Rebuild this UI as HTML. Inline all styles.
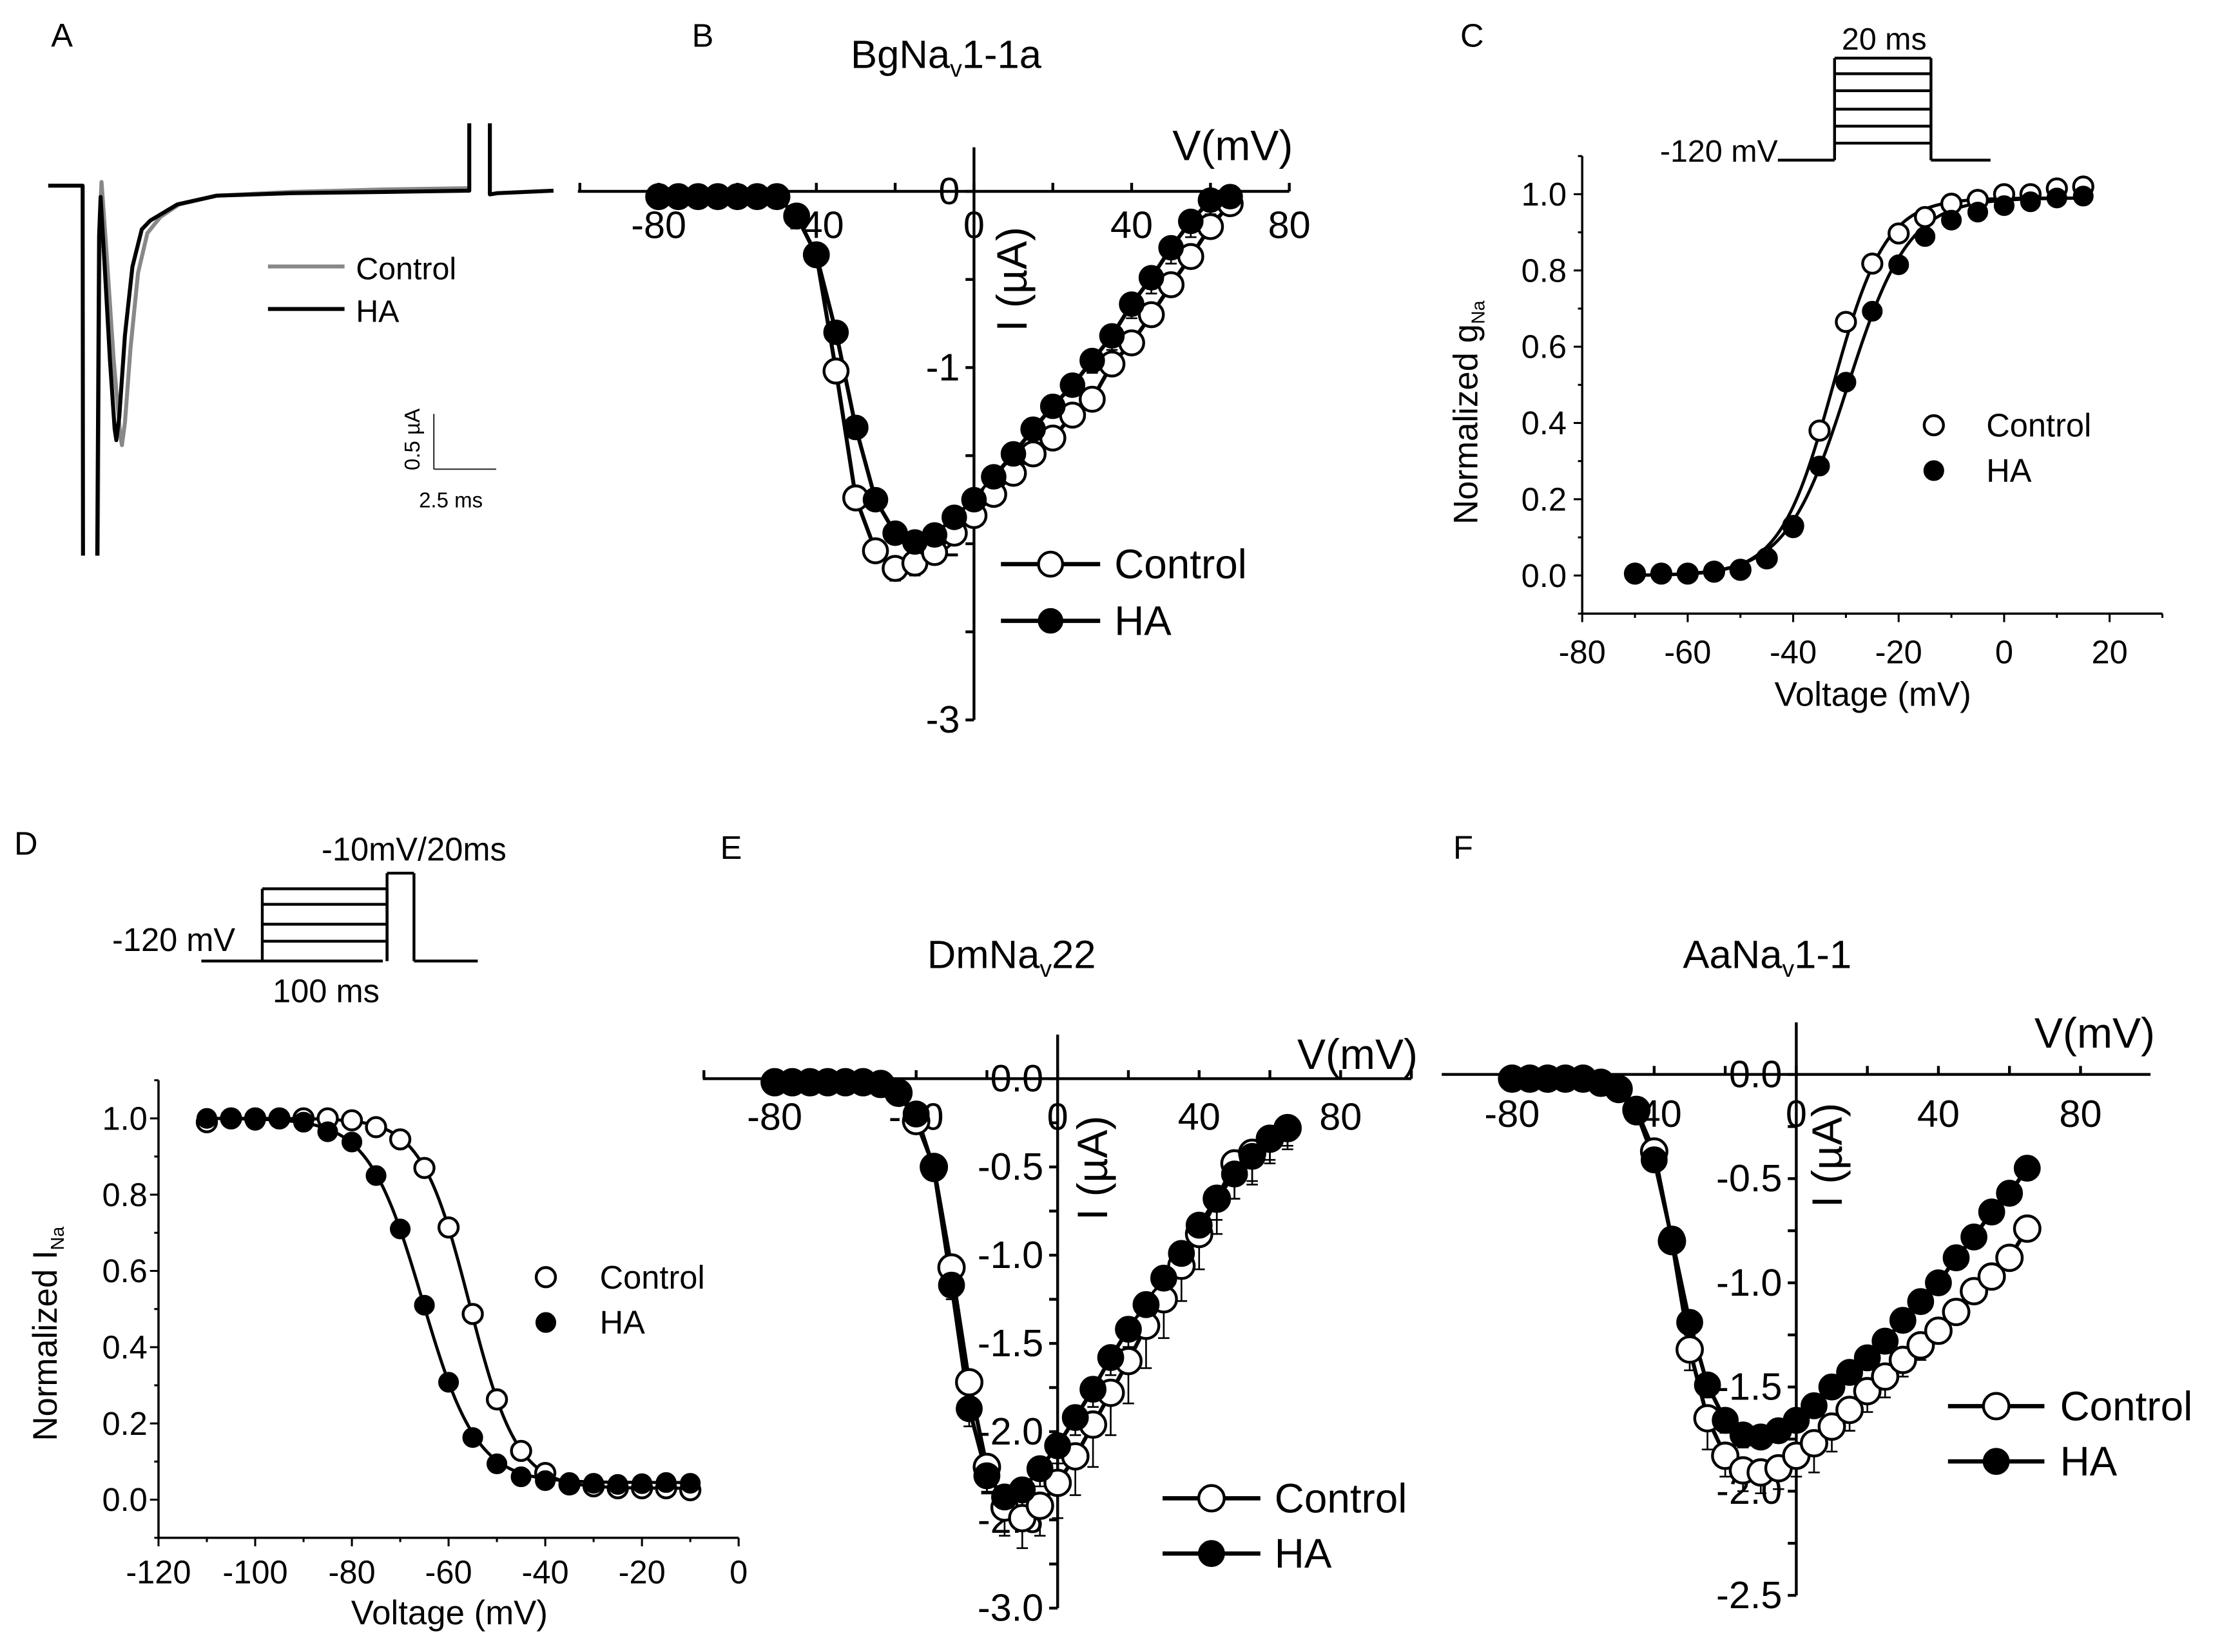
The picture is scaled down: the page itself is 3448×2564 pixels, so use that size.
<!DOCTYPE html>
<html><head><meta charset="utf-8"><style>
html,body{margin:0;padding:0;background:#fff;}
svg{display:block;font-family:"Liberation Sans",Arial,sans-serif;}
</style></head><body>
<svg id="fig" xmlns="http://www.w3.org/2000/svg" width="3448" height="2564" viewBox="0 0 1567.27 1165.45">
<rect x="0" y="0" width="1567.27" height="1165.45" fill="#fff"/>
</svg>
<script>
// ---------- DATA ----------
// Panel A traces (time ms, current uA)
const aCtrlT=[2.65,2.75,2.85,3.1,3.5,3.85,3.94,4.1,4.4,4.8,5.3,6,7,9,13,18,22.5];
const aCtrlI=[-3.0,-0.3,0.03,-0.5,-1.4,-2.0,-2.08,-1.9,-1.3,-0.7,-0.38,-0.25,-0.15,-0.08,-0.05,-0.03,-0.02];
const aHa1T=[0,1.84,1.86];
const aHa1I=[0.0,0.0,-3.0];
const aHaT=[2.62,2.72,2.8,3.0,3.3,3.55,3.64,3.8,4.1,4.5,5.0,5.45,6.9,9,13,18,22.5,22.5];
const aHaI=[-3.0,-0.4,-0.09,-0.6,-1.4,-1.95,-2.04,-1.85,-1.2,-0.65,-0.35,-0.28,-0.15,-0.08,-0.06,-0.05,-0.04,0.5];
const aHa2T=[23.6,23.6,24,27];
const aHa2I=[0.5,-0.07,-0.06,-0.04];

// Panel B
const bV=[-80,-75,-70,-65,-60,-55,-50,-45,-40,-35,-30,-25,-20,-15,-10,-5,0,5,10,15,20,25,30,35,40,45,50,55,60,65];
const bCtrl=[-0.03,-0.03,-0.03,-0.03,-0.03,-0.03,-0.03,-0.14,-0.36,-1.02,-1.74,-2.04,-2.14,-2.11,-2.05,-1.94,-1.84,-1.72,-1.6,-1.49,-1.4,-1.27,-1.18,-0.98,-0.86,-0.7,-0.53,-0.37,-0.2,-0.07];
const bCtrlErr=[0,0,0,0,0,0,0,0.02,0.03,0.05,0.06,0.06,0.07,0.07,0.06,0.05,0.05,0.05,0.05,0.05,0.05,0.05,0.05,0.05,0.06,0.06,0.06,0.06,0.06,0.06];
const bHa=[-0.03,-0.03,-0.03,-0.03,-0.03,-0.03,-0.03,-0.14,-0.36,-0.8,-1.34,-1.75,-1.94,-1.99,-1.95,-1.85,-1.75,-1.62,-1.49,-1.35,-1.22,-1.1,-0.96,-0.82,-0.64,-0.49,-0.32,-0.17,-0.05,-0.03];
const bHaErr=[0,0,0,0,0,0,0,0.02,0.03,0.04,0.05,0.05,0.05,0.05,0.05,0.05,0.05,0.05,0.05,0.05,0.06,0.06,0.07,0.08,0.08,0.09,0.09,0.09,0.08,0.07];

// Panel C
const cV=[-70,-65,-60,-55,-50,-45,-40,-35,-30,-25,-20,-15,-10,-5,0,5,10,15];
const cCtrl=[0.005,0.005,0.005,0.01,0.015,0.045,0.13,0.38,0.665,0.818,0.897,0.94,0.975,0.985,1.0,1.0,1.015,1.02];
const cHa=[0.005,0.005,0.005,0.01,0.015,0.045,0.125,0.287,0.507,0.693,0.815,0.889,0.932,0.953,0.97,0.98,0.99,0.995];
const cFitVh=[-32.5,-29.7];
const cFitK=[5.0,5.8];

// Panel D
const dV=[-110,-105,-100,-95,-90,-85,-80,-75,-70,-65,-60,-55,-50,-45,-40,-35,-30,-25,-20,-15,-10];
const dCtrl=[0.99,1.0,1.0,1.0,1.0,1.0,0.995,0.977,0.945,0.87,0.714,0.487,0.263,0.128,0.07,0.04,0.035,0.03,0.03,0.03,0.025];
const dHa=[1.0,1.0,0.995,1.0,0.99,0.965,0.938,0.85,0.71,0.51,0.308,0.163,0.094,0.06,0.05,0.045,0.043,0.04,0.042,0.045,0.043];
const dFitVh=[-55.7,-65.4];
const dFitK=[4.95,5.6];
const dFitBottom=[0.03,0.045];

// Panel E
const eV=[-80,-75,-70,-65,-60,-55,-50,-45,-40,-35,-30,-25,-20,-15,-10,-5,0,5,10,15,20,25,30,35,40,45,50,55,60,65];
const eCtrl=[-0.02,-0.02,-0.02,-0.02,-0.02,-0.02,-0.03,-0.08,-0.24,-0.5,-1.07,-1.72,-2.2,-2.43,-2.49,-2.42,-2.29,-2.14,-1.96,-1.78,-1.6,-1.4,-1.25,-1.06,-0.88,-0.68,-0.48,-0.42,-0.34,-0.28];
const eCtrlErr=[0,0,0,0,0,0,0,0.02,0.04,0.06,0.08,0.1,0.14,0.16,0.17,0.17,0.2,0.22,0.24,0.24,0.24,0.24,0.22,0.2,0.2,0.2,0.2,0.18,0.14,0.12];
const eHa=[-0.02,-0.02,-0.02,-0.02,-0.02,-0.02,-0.03,-0.08,-0.2,-0.51,-1.17,-1.87,-2.25,-2.37,-2.33,-2.21,-2.08,-1.92,-1.76,-1.58,-1.42,-1.28,-1.13,-0.99,-0.83,-0.68,-0.54,-0.44,-0.34,-0.28];
const eHaErr=[0,0,0,0,0,0,0,0.02,0.04,0.06,0.08,0.1,0.1,0.1,0.1,0.1,0.1,0.1,0.1,0.1,0.1,0.1,0.1,0.1,0.1,0.12,0.14,0.14,0.12,0.1];

// Panel F
const fV=[-80,-75,-70,-65,-60,-55,-50,-45,-40,-35,-30,-25,-20,-15,-10,-5,0,5,10,15,20,25,30,35,40,45,50,55,60,65];
const fCtrl=[-0.02,-0.02,-0.02,-0.02,-0.02,-0.04,-0.07,-0.17,-0.37,-0.8,-1.32,-1.65,-1.83,-1.9,-1.91,-1.89,-1.83,-1.77,-1.69,-1.61,-1.52,-1.45,-1.37,-1.3,-1.23,-1.14,-1.04,-0.97,-0.88,-0.74];
const fCtrlErr=[0,0,0,0,0,0,0,0.02,0.03,0.05,0.1,0.15,0.1,0.1,0.1,0.1,0.1,0.14,0.12,0.1,0.1,0.1,0.08,0.07,0.06,0.06,0.05,0.05,0.05,0.04];
const fHa=[-0.02,-0.02,-0.02,-0.02,-0.02,-0.04,-0.07,-0.18,-0.41,-0.79,-1.19,-1.49,-1.66,-1.73,-1.74,-1.71,-1.66,-1.59,-1.5,-1.43,-1.36,-1.28,-1.18,-1.09,-1.0,-0.88,-0.78,-0.66,-0.57,-0.45];
const fHaErr=[0,0,0,0,0,0,0,0.02,0.03,0.05,0.06,0.06,0.06,0.06,0.05,0.05,0.05,0.04,0.04,0.04,0.04,0.04,0.04,0.04,0.03,0.03,0.03,0.03,0.03,0.03];

// ---------- HELPERS ----------
const NS='http://www.w3.org/2000/svg';
const svg=document.getElementById('fig');
function mk(tag,attrs,parent){const e=document.createElementNS(NS,tag);for(const k in attrs)e.setAttribute(k,attrs[k]);(parent||svg).appendChild(e);return e;}
function txt(x,y,s,size,anchor,parent,name){
  const t=mk('text',{x:x,y:y,'font-size':size,'text-anchor':anchor||'start',fill:'#000'},parent);
  t.textContent=s;
  
  
  return t;
}
function line(x1,y1,x2,y2,w,parent,name,color){
  const l=mk('line',{x1:x1,y1:y1,x2:x2,y2:y2,stroke:color||'#000','stroke-width':w},parent);
  
  
  return l;
}
function group(name){
  const g=mk('g',{});
  
  
  return g;
}
function marker(x,y,r,filled,parent,name){
  const c=mk('circle',{cx:x,cy:y,r:r,fill:filled?'#000':'#fff',stroke:'#000','stroke-width':filled?1:2},parent);
  
  
  return c;
}
function poly(pts,w,parent,name,color){
  const p=mk('polyline',{points:pts.map(p=>p[0].toFixed(2)+','+p[1].toFixed(2)).join(' '),fill:'none',stroke:color||'#000','stroke-width':w,'stroke-linejoin':'round'},parent);
  
  
  return p;
}
function fmt1(v){return (v<0?'-':'')+Math.abs(v).toFixed(1);}

// ---------- PANEL LETTERS ----------
[['A',36,33],['B',488,33],['C',1030,33],['D',10,603],['E',508,606],['F',1025,606]].forEach(l=>{
  txt(l[1],l[2],l[0],23,'start',null,'panel-label-'+l[0].toLowerCase());
});

// ---------- PANEL A ----------
(function(){
  const g=group('panel-a-current-traces');
  const X=t=>34+t*13.2, Y=i=>131-i*88;
  const clipY=v=>Math.min(v,392);
  poly(aCtrlT.map((t,k)=>[X(t),clipY(Y(aCtrlI[k]))]),2.8,g,'control-trace','#888');
  poly(aHa1T.map((t,k)=>[X(t),clipY(Y(aHa1I[k]))]),2.8,g,'ha-trace-onset');
  poly(aHaT.map((t,k)=>[X(t),clipY(Y(aHaI[k]))]),2.8,g,'ha-trace');
  poly(aHa2T.map((t,k)=>[X(t),clipY(Y(aHa2I[k]))]),2.8,g,'ha-trace-artifact');
  const lg=group('panel-a-legend');
  line(189,188,243,188,2.8,lg,'legend-control-line','#888');
  txt(251,197,'Control',22,'start',lg,'legend-control-label');
  line(189,218,243,218,2.8,lg,'legend-ha-line');
  txt(251,227,'HA',22,'start',lg,'legend-ha-label');
  const sb=group('scale-bar');
  line(306,292,306,331,1,sb,'scale-bar-vertical','#333');
  line(306,331,350,331,1,sb,'scale-bar-horizontal','#333');
  const t1=txt(0,0,'0.5 \u00b5A',15,'middle',sb,'scale-bar-current-label');
  t1.setAttribute('transform','translate(296,310) rotate(-90)');
  txt(318,358,'2.5 ms',15,'middle',sb,'scale-bar-time-label');
})();

// ---------- IV PANELS ----------
function ivPanel(P){
  const g=group(P.name);
  const X=v=>P.x0+v*P.sx, Y=i=>P.y0-i*P.sy;
  line(X(P.vmin),P.y0,X(P.vmax),P.y0,2,g,'x-axis');
  line(P.x0,Y(P.imax),P.x0,Y(P.imin),2,g,'y-axis');
  for(let v=-100;v<=P.vmax+0.1;v+=20){ if(v<P.vmin-0.1) continue; line(X(v),P.y0,X(v),P.y0-6,2,g,'x-tick'); }
  for(let i=0;i>=P.imin-1e-6;i-=P.yminor){ line(P.x0,Y(i),P.x0-6,Y(i),2,g,'y-tick'); }
  P.xlabels.forEach(v=>txt(X(v),P.y0+P.xlabOff,String(v),P.fs,'middle',g,'x-tick-label'));
  P.ylabels.forEach(i=>txt(P.x0-10,Y(i)+9,P.yfmt(i),P.fs,'end',g,'y-tick-label'));
  txt(P.vlab[0],P.vlab[1],'V(mV)',30,'end',g,'x-axis-title');
  const yt=txt(0,0,'I (\u00b5A)',30,'middle',g,'y-axis-title');
  yt.setAttribute('transform','translate('+P.ilab[0]+','+P.ilab[1]+') rotate(-90)');
  const tt=mk('text',{x:P.title[0],y:P.title[1],'font-size':28,fill:'#000'},g);
  
  
  const s1=mk('tspan',{},tt); s1.textContent=P.title[2];
  const s2=mk('tspan',{'font-size':17,dy:6},tt); s2.textContent='v';
  const s3=mk('tspan',{dy:-6},tt); s3.textContent=P.title[3];
  [[P.ctrl,P.ctrlErr,false,'control'],[P.ha,P.haErr,true,'ha']].forEach(S=>{
    poly(P.v.map((v,k)=>[X(v),Y(S[0][k])]),2.8,g,S[3]+'-fit-line');
    P.v.forEach((v,k)=>{ const e=S[1][k]; if(e>0){
      const d=S[0][k]<0?-1:1;
      line(X(v),Y(S[0][k]),X(v),Y(S[0][k]+d*e),1.2,g,S[3]+'-error-bar');
      line(X(v)-4,Y(S[0][k]+d*e),X(v)+4,Y(S[0][k]+d*e),1.2,g,S[3]+'-error-cap');
    }});
  });
  [[P.ctrl,false,'control'],[P.ha,true,'ha']].forEach(S=>{
    P.v.forEach((v,k)=>marker(X(v),Y(S[0][k]),P.r,S[1],g,S[2]+'-point'));
  });
  const lg=mk('g',{},g);
  
  
  line(P.leg[0],P.leg[2],P.leg[1],P.leg[2],3,lg,'legend-control-line');
  marker((P.leg[0]+P.leg[1])/2,P.leg[2],P.r,false,lg,'legend-control-marker');
  txt(P.leg[4],P.leg[2]+10,'Control',29,'start',lg,'legend-control-label');
  line(P.leg[0],P.leg[3],P.leg[1],P.leg[3],3,lg,'legend-ha-line');
  marker((P.leg[0]+P.leg[1])/2,P.leg[3],P.r,true,lg,'legend-ha-marker');
  txt(P.leg[4],P.leg[3]+10,'HA',29,'start',lg,'legend-ha-label');
}

ivPanel({name:'panel-b-bgnav-iv',x0:687,y0:135,sx:2.78,sy:124.3,vmin:-100.5,vmax:80,imax:0.25,imin:-3,yminor:0.5,
  xlabels:[-80,-40,0,40,80],ylabels:[0,-1,-2,-3],yfmt:i=>String(i),xlabOff:33,fs:27,
  vlab:[912,113],ilab:[724,197],title:[600,48,'BgNa','1-1a'],
  v:bV,ctrl:bCtrl,ctrlErr:bCtrlErr,ha:bHa,haErr:bHaErr,r:8.5,leg:[706,776,398,438,786]});

ivPanel({name:'panel-e-dmnav-iv',x0:746,y0:761,sx:2.495,sy:124.5,vmin:-100.3,vmax:100,imax:0.25,imin:-3,yminor:0.25,
  xlabels:[-80,-40,0,40,80],ylabels:[0,-0.5,-1,-1.5,-2,-2.5,-3],yfmt:fmt1,xlabOff:36,fs:27,
  vlab:[1000,754],ilab:[781,824],title:[654,683,'DmNa','22'],
  v:eV,ctrl:eCtrl,ctrlErr:eCtrlErr,ha:eHa,haErr:eHaErr,r:9,leg:[820,889,1057,1096,899]});

ivPanel({name:'panel-f-aanav-iv',x0:1267,y0:758,sx:2.506,sy:147,vmin:-99.8,vmax:99.7,imax:0.25,imin:-2.5,yminor:0.25,
  xlabels:[-80,-40,0,40,80],ylabels:[0,-0.5,-1,-1.5,-2,-2.5],yfmt:fmt1,xlabOff:37,fs:27,
  vlab:[1520,739],ilab:[1299,815],title:[1187,683,'AaNa','1-1'],
  v:fV,ctrl:fCtrl,ctrlErr:fCtrlErr,ha:fHa,haErr:fHaErr,r:9,leg:[1374,1442,992,1031,1453]});

// ---------- SIGMOID PANELS ----------
function sigPanel(P){
  const g=group(P.name);
  const X=v=>P.x0+v*P.sx, Y=y=>P.y0-y*P.sy;
  line(X(P.vmin),Y(-0.1),X(P.vmax),Y(-0.1),1.6,g,'x-axis');
  line(X(P.vmin),Y(1.1),X(P.vmin),Y(-0.1),1.6,g,'y-axis');
  for(let v=P.vmin;v<=P.vmax+0.1;v+=10){const maj=((v%20)+20)%20===0; line(X(v),Y(-0.1),X(v),Y(-0.1)+(maj?6:3),1.4,g,'x-tick');}
  for(let k=-1;k<=11;k++){const maj=k%2===0; line(X(P.vmin),Y(k/10),X(P.vmin)-(maj?6:3),Y(k/10),1.4,g,'y-tick');}
  P.xlabels.forEach(v=>txt(X(v),P.xlabY,String(v),23,'middle',g,'x-tick-label'));
  [0,0.2,0.4,0.6,0.8,1.0].forEach(y=>txt(P.ylabX,Y(y)+8,y.toFixed(1),23,'end',g,'y-tick-label'));
  txt(P.vt[0],P.vt[1],'Voltage (mV)',24,'middle',g,'x-axis-title');
  const yt=mk('text',{'font-size':24,'text-anchor':'middle',transform:'translate('+P.yt[0]+','+P.yt[1]+') rotate(-90)'},g);
  
  
  const a=mk('tspan',{},yt); a.textContent='Normalized '+P.yt[2];
  const b=mk('tspan',{'font-size':13,dy:5},yt); b.textContent='Na';
  [0,1].forEach(s=>{
    const pts=[];
    for(let v=P.vmin+10;v<=P.fitMax;v+=0.5) pts.push([X(v),Y(P.f(s,v))]);
    poly(pts,2.2,g,(s?'ha':'control')+'-fit-curve');
  });
  [[P.ctrl,false,'control'],[P.ha,true,'ha']].forEach(S=>{
    P.v.forEach((v,k)=>marker(X(v),Y(S[0][k]),6.8,S[1],g,S[2]+'-point'));
  });
  const lg=mk('g',{},g);
  
  
  marker(P.leg[0],P.leg[1],6.8,false,lg,'legend-control-marker');
  txt(P.leg[2],P.leg[1]+8,'Control',23,'start',lg,'legend-control-label');
  marker(P.leg[0],P.leg[1]+32,6.8,true,lg,'legend-ha-marker');
  txt(P.leg[2],P.leg[1]+40,'HA',23,'start',lg,'legend-ha-label');
}

sigPanel({name:'panel-c-activation',x0:1413.6,y0:406,sx:3.72,sy:269,vmin:-80,vmax:30,fitMax:15,
  xlabels:[-80,-60,-40,-20,0,20],xlabY:468,ylabX:1105,vt:[1321,498],yt:[1042,291,'g'],
  v:cV,ctrl:cCtrl,ha:cHa,leg:[1364,300,1401],
  f:(s,v)=>0.99/(1+Math.exp((cFitVh[s]-v)/cFitK[s]))});

sigPanel({name:'panel-d-inactivation',x0:521,y0:1058,sx:3.41,sy:269,vmin:-120,vmax:0,fitMax:-10,
  xlabels:[-120,-100,-80,-60,-40,-20,0],xlabY:1117,ylabX:104,vt:[317,1146],yt:[40,941,'I'],
  v:dV,ctrl:dCtrl,ha:dHa,leg:[385,901,423],
  f:(s,v)=>dFitBottom[s]+(1-dFitBottom[s])/(1+Math.exp((v-dFitVh[s])/dFitK[s]))});

// ---------- PROTOCOL INSETS ----------
(function(){
  const g=group('panel-c-protocol');
  const lvls=[41,52,64,77,89,101];
  line(1254,113,1294,113,2,g,'holding-line');
  line(1294,113,1294,41,2,g,'step-left');
  line(1362,41,1362,113,2,g,'step-right');
  lvls.forEach(y=>line(1294,y,1362,y,2,g,'step-level'));
  line(1362,113,1404,113,2,g,'return-line');
  txt(1329,35,'20 ms',22,'middle',g,'protocol-duration-label');
  txt(1254,114,'-120 mV',22,'end',g,'protocol-holding-label');
})();
(function(){
  const g=group('panel-d-protocol');
  line(142,678,270,678,2,g,'holding-line');
  line(185,678,185,627,2,g,'prepulse-left');
  [627,638,652,664].forEach(y=>line(185,y,273,y,2,g,'prepulse-level'));
  line(273,627,273,678,2,g,'prepulse-right');
  line(273,678,273,616,2,g,'testpulse-left');
  line(273,616,292,616,2,g,'testpulse-top');
  line(292,616,292,678,2,g,'testpulse-right');
  line(292,678,337,678,2,g,'return-line');
  txt(292,607,'-10mV/20ms',23,'middle',g,'testpulse-label');
  txt(166,671,'-120 mV',23,'end',g,'protocol-holding-label');
  txt(230,707,'100 ms',23,'middle',g,'prepulse-duration-label');
})();
</script>
</body></html>
